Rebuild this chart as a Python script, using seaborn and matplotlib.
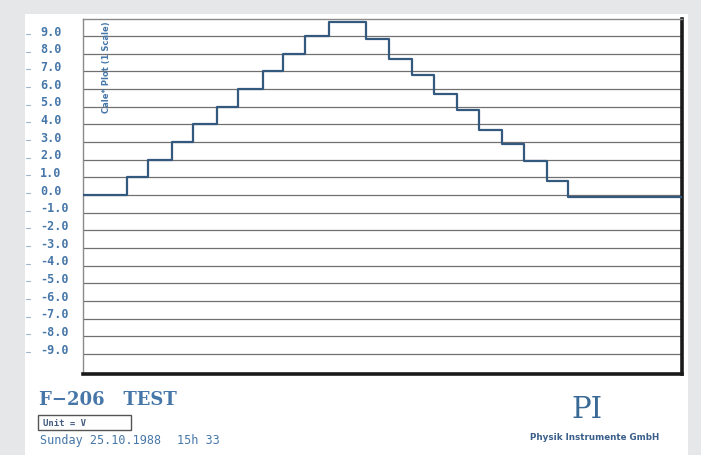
import matplotlib
matplotlib.use("Agg")
import matplotlib.pyplot as plt
import matplotlib.patches as mpatches
import matplotlib.transforms as mtransforms
import seaborn as sns
import pandas as pd
import numpy as np

# ---- data (time in arbitrary units, position in units) ----
step_times = [0, 44, 65, 89, 110, 134, 155, 180, 200, 222, 246,
              283, 307, 330, 352, 375, 397, 420, 442, 465, 486, 600]
step_levels = [0.0, 1.0, 2.0, 3.0, 4.0, 5.0, 6.0, 7.0, 8.0, 9.0, 9.8,
               8.8, 7.7, 6.8, 5.7, 4.8, 3.7, 2.9, 1.9, 0.8, -0.1, -0.1]
ytick_values = [9, 8, 7, 6, 5, 4, 3, 2, 1, 0, -1, -2, -3, -4, -5, -6, -7, -8, -9]
ytick_labels = ["9.0", "8.0", "7.0", "6.0", "5.0", "4.0", "3.0", "2.0", "1.0", "0.0",
                "-1.0", "-2.0", "-3.0", "-4.0", "-5.0", "-6.0", "-7.0", "-8.0", "-9.0"]
title_text = "F\u2212206   TEST"
unit_text = "Unit = V"
date_text = "Sunday 25.10.1988"
time_text = "15h 33"
logo_text = "PI"
company_text = "Physik Instrumente GmbH"
vertical_text = "Cale* Plot (1 Scale)"

sns.set_theme(style="white")
plt.rcParams["font.family"] = ["DejaVu Sans"]

W, H = 701, 456
fig = plt.figure(figsize=(W / 100, H / 100), dpi=100)
fig.patch.set_facecolor("#e6e7e8")

# white sheet
fig.add_artist(mpatches.Rectangle((25 / W, 0), (688 - 25) / W, 1 - 15 / H,
                                  transform=fig.transFigure, facecolor="white",
                                  edgecolor="none", zorder=0))

ax = fig.add_axes([83 / W, 1 - 375 / H, (682 - 83) / W, (375 - 20) / H])
ax.set_facecolor("white")

df = pd.DataFrame({"t": step_times, "pos": step_levels})
sns.lineplot(data=df, x="t", y="pos", ax=ax, drawstyle="steps-post",
             color="#34597f", linewidth=1.6, zorder=3)

blue = "#4677a8"
for v in ytick_values:
    ax.axhline(v, color="#707070", linewidth=0.9, zorder=1)

ax.set_xlim(0, 600)
ax.set_ylim(-10.13, 9.96)
ax.set_xticks([])
ax.set_yticks(ytick_values)
ax.set_yticklabels([])
ax.tick_params(axis="y", length=0)
ax.set_xlabel("")
ax.set_ylabel("")

# y labels, left aligned, sitting slightly above their grid lines
lab_trans = mtransforms.offset_copy(
    mtransforms.blended_transform_factory(fig.transFigure, ax.transData),
    fig=fig, x=0, y=3.5, units="points")
tick_trans = mtransforms.offset_copy(
    mtransforms.blended_transform_factory(fig.transFigure, ax.transData),
    fig=fig, x=0, y=1.5, units="points")
for v, s in zip(ytick_values, ytick_labels):
    ax.text(40 / W, v, s, transform=lab_trans, ha="left", va="center",
            fontfamily="DejaVu Sans Mono", fontweight="bold", fontsize=8.5,
            color=blue, clip_on=False)
    ax.plot([26 / W, 30 / W], [v, v], transform=tick_trans, color="#9fb3c8",
            linewidth=0.8, clip_on=False)

for side in ["left", "top"]:
    ax.spines[side].set_color("#8a8a8a")
    ax.spines[side].set_linewidth(1.0)
for side in ["right", "bottom"]:
    ax.spines[side].set_color("#1a1a1a")
    ax.spines[side].set_linewidth(2.6)

ax.text(0.04, 0.995, vertical_text, transform=ax.transAxes, rotation=90,
        ha="center", va="top", fontsize=6, fontweight="bold", color=blue, zorder=4)

# ---- footer texts ----
fig.text(39 / W, 1 - 405 / H, title_text, fontfamily="DejaVu Serif", fontsize=13,
         fontweight="bold", color=blue, ha="left", va="baseline")
fig.add_artist(mpatches.Rectangle((38 / W, 1 - 431 / H), (131 - 38) / W, 15 / H,
                                  transform=fig.transFigure, facecolor="white",
                                  edgecolor="#555555", linewidth=1.0, zorder=2))
fig.text(43 / W, 1 - 423 / H, unit_text, fontfamily="DejaVu Sans Mono", fontsize=6.5,
         fontweight="bold", color="#445d80", ha="left", va="center", zorder=3)
fig.text(40 / W, 1 - 441 / H, date_text, fontfamily="DejaVu Sans Mono", fontsize=8.5,
         color=blue, ha="left", va="center")
fig.text(177 / W, 1 - 441 / H, time_text, fontfamily="DejaVu Sans Mono", fontsize=8.5,
         color=blue, ha="left", va="center")
fig.text(587 / W, 1 - 410 / H, logo_text, fontfamily="DejaVu Serif", fontsize=21,
         color="#3a6995", ha="center", va="center")
fig.text(595 / W, 1 - 438 / H, company_text, fontsize=6.3, fontweight="bold",
         color="#3a5f8a", ha="center", va="center")

fig.savefig("out.png", dpi=100, facecolor=fig.get_facecolor())
